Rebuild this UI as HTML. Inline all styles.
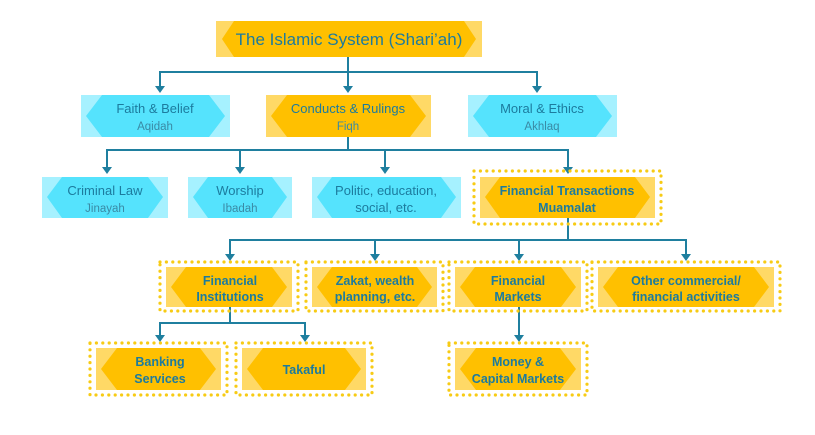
<!DOCTYPE html>
<html><head><meta charset="utf-8"><style>
body{margin:0;background:#fff;width:815px;height:430px;overflow:hidden}
svg text{font-family:"Liberation Sans",sans-serif;fill:#1c7b9e;text-anchor:middle}
.b{font-weight:bold;font-size:12.5px}
.n{font-size:13px}
.s{font-size:11.5px;fill:#3a8aa5}
.d{fill:none;stroke:#f7cb15;stroke-width:3.2;stroke-linecap:round;stroke-dasharray:0 6.4}
.ln{fill:none;stroke:#1f7f9f;stroke-width:2}
.ar{fill:#1f7f9f}
.y{fill:#ffc000}.yl{fill:#ffd966}
.c{fill:#55e3fd}.cl{fill:#a6f1ff}
</style></head><body>
<svg width="815" height="430" viewBox="0 0 815 430">
<!-- connectors -->
<path class="ln" d="M348 57V72M160 87V72H537V87M348 72V87"/>
<path class="ar" d="M155 86h10l-5 7zM343 86h10l-5 7zM532 86h10l-5 7z"/>
<path class="ln" d="M348 137V150M107 168V150H568V168M240 150V168M385 150V168"/>
<path class="ar" d="M102 167h10l-5 7zM235 167h10l-5 7zM380 167h10l-5 7zM563 167h10l-5 7z"/>
<path class="ln" d="M568 218V240M230 255V240H686V255M375 240V255M519 240V255"/>
<path class="ar" d="M225 254h10l-5 7zM370 254h10l-5 7zM514 254h10l-5 7zM681 254h10l-5 7z"/>
<path class="ln" d="M230 307V323M160 336V323H305V336M519 307V336"/>
<path class="ar" d="M155 335h10l-5 7zM300 335h10l-5 7zM514 335h10l-5 7z"/>

<!-- Top -->
<rect class="y" x="216" y="21" width="266" height="36"/>
<polygon class="yl" points="216,21 234,21 222,39 234,57 216,57"/>
<polygon class="yl" points="482,21 464,21 476,39 464,57 482,57"/>
<text x="349" y="45" style="font-size:17px">The Islamic System (Shari’ah)</text>

<!-- Row2 -->
<rect class="c" x="81" y="95" width="149" height="42"/>
<polygon class="cl" points="81,95 102,95 86,116 102,137 81,137"/>
<polygon class="cl" points="230,95 209,95 225,116 209,137 230,137"/>
<text class="n" x="155" y="113">Faith &amp; Belief</text><text class="s" x="155" y="130">Aqidah</text>

<rect class="y" x="266" y="95" width="165" height="42"/>
<polygon class="yl" points="266,95 287,95 271,116 287,137 266,137"/>
<polygon class="yl" points="431,95 410,95 426,116 410,137 431,137"/>
<text class="n" x="348" y="113">Conducts &amp; Rulings</text><text class="s" x="348" y="130">Fiqh</text>

<rect class="c" x="468" y="95" width="149" height="42"/>
<polygon class="cl" points="468,95 489,95 473,116 489,137 468,137"/>
<polygon class="cl" points="617,95 596,95 612,116 596,137 617,137"/>
<text class="n" x="542" y="113">Moral &amp; Ethics</text><text class="s" x="542" y="130">Akhlaq</text>

<!-- Row3 -->
<rect class="c" x="42" y="177" width="126" height="41"/>
<polygon class="cl" points="42,177 62,177 47,197 62,218 42,218"/>
<polygon class="cl" points="168,177 148,177 163,197 148,218 168,218"/>
<text class="n" x="105" y="195">Criminal Law</text><text class="s" x="105" y="212">Jinayah</text>

<rect class="c" x="188" y="177" width="104" height="41"/>
<polygon class="cl" points="188,177 208,177 193,197 208,218 188,218"/>
<polygon class="cl" points="292,177 272,177 287,197 272,218 292,218"/>
<text class="n" x="240" y="195">Worship</text><text class="s" x="240" y="212">Ibadah</text>

<rect class="c" x="312" y="177" width="149" height="41"/>
<polygon class="cl" points="312,177 332,177 317,197 332,218 312,218"/>
<polygon class="cl" points="461,177 441,177 456,197 441,218 461,218"/>
<text class="n" x="386" y="195">Politic, education,</text><text class="n" x="386" y="212">social, etc.</text>

<rect class="d" x="474" y="171" width="187" height="53"/>
<rect class="y" x="480" y="177" width="175" height="41"/>
<polygon class="yl" points="480,177 500,177 485,197 500,218 480,218"/>
<polygon class="yl" points="655,177 635,177 650,197 635,218 655,218"/>
<text class="b" x="567" y="195">Financial Transactions</text><text class="b" x="567" y="212">Muamalat</text>

<!-- Row4 -->
<rect class="d" x="160" y="262" width="138" height="49"/>
<rect class="y" x="166" y="267" width="126" height="40"/>
<polygon class="yl" points="166,267 186,267 171,287 186,307 166,307"/>
<polygon class="yl" points="292,267 272,267 287,287 272,307 292,307"/>
<text class="b" x="230" y="285">Financial</text><text class="b" x="230" y="301">Institutions</text>

<rect class="d" x="306" y="262" width="137" height="49"/>
<rect class="y" x="312" y="267" width="125" height="40"/>
<polygon class="yl" points="312,267 332,267 317,287 332,307 312,307"/>
<polygon class="yl" points="437,267 417,267 432,287 417,307 437,307"/>
<text class="b" x="375" y="285">Zakat, wealth</text><text class="b" x="375" y="301">planning, etc.</text>

<rect class="d" x="449" y="262" width="138" height="49"/>
<rect class="y" x="455" y="267" width="126" height="40"/>
<polygon class="yl" points="455,267 475,267 460,287 475,307 455,307"/>
<polygon class="yl" points="581,267 561,267 576,287 561,307 581,307"/>
<text class="b" x="518" y="285">Financial</text><text class="b" x="518" y="301">Markets</text>

<rect class="d" x="592" y="262" width="188" height="49"/>
<rect class="y" x="598" y="267" width="176" height="40"/>
<polygon class="yl" points="598,267 618,267 603,287 618,307 598,307"/>
<polygon class="yl" points="774,267 754,267 769,287 754,307 774,307"/>
<text class="b" x="686" y="285">Other commercial/</text><text class="b" x="686" y="301">financial activities</text>

<!-- Row5 -->
<rect class="d" x="90" y="343" width="137" height="52"/>
<rect class="y" x="96" y="348" width="125" height="42"/>
<polygon class="yl" points="96,348 117,348 101,369 117,390 96,390"/>
<polygon class="yl" points="221,348 200,348 216,369 200,390 221,390"/>
<text class="b" x="160" y="366">Banking</text><text class="b" x="160" y="383">Services</text>

<rect class="d" x="236" y="343" width="136" height="52"/>
<rect class="y" x="242" y="348" width="124" height="42"/>
<polygon class="yl" points="242,348 263,348 247,369 263,390 242,390"/>
<polygon class="yl" points="366,348 345,348 361,369 345,390 366,390"/>
<text class="b" x="304" y="374">Takaful</text>

<rect class="d" x="449" y="343" width="138" height="52"/>
<rect class="y" x="455" y="348" width="126" height="42"/>
<polygon class="yl" points="455,348 476,348 460,369 476,390 455,390"/>
<polygon class="yl" points="581,348 560,348 576,369 560,390 581,390"/>
<text class="b" x="518" y="366">Money &amp;</text><text class="b" x="518" y="383">Capital Markets</text>
</svg>
</body></html>
